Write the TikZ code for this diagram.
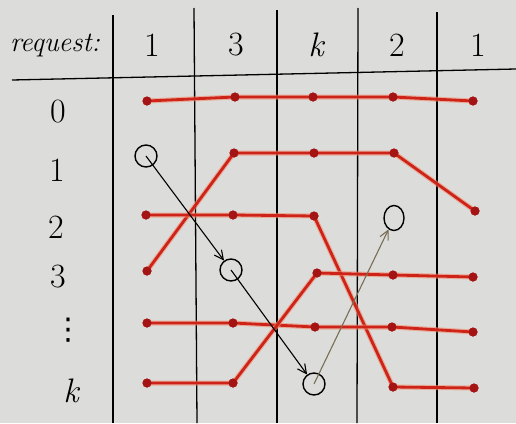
\documentclass[tikz,border=0pt]{standalone}
\usepackage{fontspec}
\newfontfamily\dvfont{DejaVu Sans}
\usetikzlibrary{arrows.meta,shapes.geometric}
\definecolor{paper}{RGB}{220,220,218}
\definecolor{redline}{RGB}{205,35,25}
\definecolor{halo}{RGB}{240,140,110}
\definecolor{dotred}{RGB}{165,20,20}
\definecolor{greyarrow}{RGB}{120,110,85}
\begin{document}
\begin{tikzpicture}[x=1pt,y=-1pt,
  dot/.style={circle,fill=dotred,inner sep=0pt,minimum size=9pt},
  hole/.style={circle,draw=black,line width=1.4pt,inner sep=0pt,minimum size=22pt},
  track/.style={redline,line width=2.8pt,line join=round,
    preaction={draw=halo,line width=5pt,opacity=0.6}},
  grid/.style={black,line width=1.3pt},
  move/.style={line width=1.1pt,-{Straight Barb[length=9pt,width=9pt,line width=1.1pt]}},
  lab/.style={font=\fontsize{34}{34}\selectfont}
]
\fill[paper] (0,0) rectangle (516,423);
\useasboundingbox (0,0) rectangle (516,423);

% grid
\draw[grid] (12,80) -- (516,69);
\draw[grid] (113,15) -- (113,423);
\draw[grid] (194,8) -- (197,423);
\draw[grid] (277,10) -- (277,423);
\draw[grid] (358,8) -- (357,423);
\draw[grid] (437,12) -- (437,423);

% header
\node[font=\itshape\fontsize{28}{28}\selectfont] (req) at (55,45) {request:};
\node[lab] (c1) at (152,45) {1};
\node[lab] (c2) at (236,45) {3};
\node[lab,font=\itshape\fontsize{34}{34}\selectfont] (c3) at (316,45) {k};
\node[lab] (c4) at (397,45) {2};
\node[lab] (c5) at (478,45) {1};

% row labels
\node[lab] (r0) at (58,112) {0};
\node[lab] (r1) at (57,170) {1};
\node[lab] (r2) at (56,227) {2};
\node[lab] (r3) at (58,277) {3};
\node[font=\dvfont\fontsize{30}{30}\selectfont] (rd) at (68,330) {⋮};
\node[lab,font=\itshape\fontsize{34}{34}\selectfont] (rk) at (71,391) {k};

% track A (row 0)
\node[dot] (a1) at (147,101) {};
\node[dot] (a2) at (235,97) {};
\node[dot] (a3) at (313,97) {};
\node[dot] (a4) at (393,97) {};
\node[dot] (a5) at (473,101) {};
% track B
\node[dot] (b1) at (147,271) {};
\node[dot] (b2) at (234,153) {};
\node[dot] (b3) at (314,153) {};
\node[dot] (b4) at (394,153) {};
\node[dot] (b5) at (475,211) {};
% track C
\node[dot] (x1) at (146,215) {};
\node[dot] (x2) at (233,215) {};
\node[dot] (x3) at (314,216) {};
\node[dot] (x4) at (393,387) {};
\node[dot] (x5) at (474,388) {};
% track D (dots row)
\node[dot] (d1) at (147,323) {};
\node[dot] (d2) at (233,323) {};
\node[dot] (d3) at (315,327) {};
\node[dot] (d4) at (392,327) {};
\node[dot] (d5) at (473,332) {};
% track E
\node[dot] (e1) at (147,383) {};
\node[dot] (e2) at (233,383) {};
\node[dot] (e3) at (317,273) {};
\node[dot] (e4) at (393,275) {};
\node[dot] (e5) at (473,277) {};

\draw[track] (a1.center) -- (a2.center) -- (a3.center) -- (a4.center) -- (a5.center);
\draw[track] (b1.center) -- (b2.center) -- (b3.center) -- (b4.center) -- (b5.center);
\draw[track] (x1.center) -- (x2.center) -- (x3.center) -- (x4.center) -- (x5.center);
\draw[track] (d1.center) -- (d2.center) -- (d3.center) -- (d4.center) -- (d5.center);
\draw[track] (e1.center) -- (e2.center) -- (e3.center) -- (e4.center) -- (e5.center);

% dots redrawn on top
\foreach \n in {a1,a2,a3,a4,a5,b1,b2,b3,b4,b5,x1,x2,x3,x4,x5,d1,d2,d3,d4,d5,e1,e2,e3,e4,e5}
  \fill[dotred] (\n.center) circle (4.5pt);

% holes
\node[hole] (h1) at (146,156) {};
\node[hole] (h2) at (231,270) {};
\node[hole] (h3) at (314,384) {};
\node[hole,ellipse,minimum width=20pt,minimum height=25pt] (h4) at (394,218) {};

\draw[move,black] (h1.center) -- (h2);
\draw[move,black] (h2.center) -- (h3);
\draw[move,greyarrow] (h3.center) -- (h4);
\end{tikzpicture}
\end{document}
